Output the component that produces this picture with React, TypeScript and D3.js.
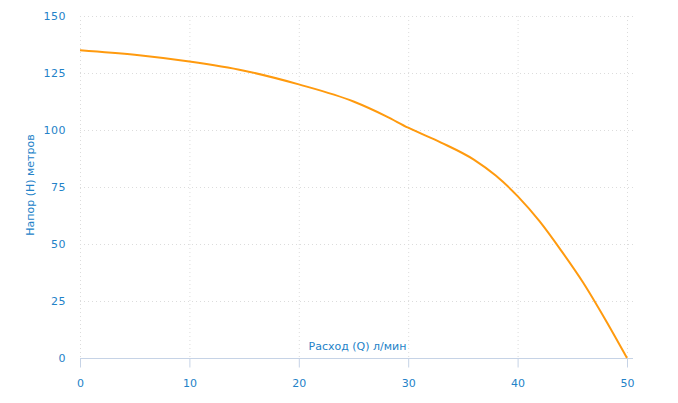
import React, { useRef, useEffect } from 'react';
import * as d3 from 'd3';

// расход (л/мин) и напор (м)
const flowValues = [0, 5, 10, 15, 20, 25, 28, 30, 33, 36, 38, 40, 42, 44, 46, 48, 50];
const headValues = [135, 133, 130, 126, 120, 112.5, 106, 101, 94.5, 87, 80, 71, 60, 47, 33, 17, 0];
const xTicks = [0, 10, 20, 30, 40, 50];
const yTicks = [0, 25, 50, 75, 100, 125, 150];

const TEXT_COLOR = '#2382c8';
const LINE_COLOR = '#ff9a0e';
const AXIS_COLOR = '#c6d3e6';
const GRID_COLOR = '#dcdcdc';
const FONT = '"DejaVu Sans", Verdana, sans-serif';

function drawChart(svgEle: SVGSVGElement) {
  const svg = d3.select(svgEle);
  svg.selectAll('*').remove();

  const margin = { top: 16, right: 51, bottom: 45, left: 80 };
  const width = 678 - margin.left - margin.right;
  const height = 403 - margin.top - margin.bottom;

  const x = d3.scaleLinear().domain([0, 50]).range([margin.left, margin.left + width]);
  const y = d3.scaleLinear().domain([0, 150]).range([margin.top + height, margin.top]);

  // сетка
  svg
    .append('g')
    .selectAll('line')
    .data(yTicks.filter((d) => d > 0))
    .enter()
    .append('line')
    .attr('x1', x(0))
    .attr('x2', x(50) + 6)
    .attr('y1', (d) => y(d) + 0.5)
    .attr('y2', (d) => y(d) + 0.5)
    .attr('stroke', GRID_COLOR)
    .attr('stroke-dasharray', '1,3');
  svg
    .append('g')
    .selectAll('line')
    .data(xTicks)
    .enter()
    .append('line')
    .attr('x1', (d) => x(d) + 0.5)
    .attr('x2', (d) => x(d) + 0.5)
    .attr('y1', y(150))
    .attr('y2', y(0))
    .attr('stroke', GRID_COLOR)
    .attr('stroke-dasharray', '1,3');

  // ось X
  const xAxis = svg
    .append('g')
    .attr('transform', `translate(0, ${y(0) + 0.5})`)
    .call(d3.axisBottom(x).tickValues(xTicks).tickSize(9).tickPadding(12));
  xAxis.select('.domain').remove();
  xAxis
    .insert('line', ':first-child')
    .attr('x1', x(0))
    .attr('x2', x(50) + 6)
    .attr('stroke', AXIS_COLOR);
  xAxis.selectAll('.tick line').attr('stroke', AXIS_COLOR);
  xAxis
    .selectAll('.tick text')
    .attr('fill', TEXT_COLOR)
    .style('font-family', FONT)
    .style('font-size', '11px');

  // ось Y
  const yAxis = svg
    .append('g')
    .attr('transform', `translate(${margin.left}, 0)`)
    .call(d3.axisLeft(y).tickValues(yTicks).tickSize(0).tickPadding(14));
  yAxis.select('.domain').remove();
  yAxis
    .selectAll('.tick text')
    .attr('fill', TEXT_COLOR)
    .style('font-family', FONT)
    .style('font-size', '11px')
    .style('letter-spacing', '0.5px');

  // подписи осей
  svg
    .append('text')
    .attr('x', x(25) + 4)
    .attr('y', y(0) - 8)
    .attr('text-anchor', 'middle')
    .attr('fill', TEXT_COLOR)
    .style('font-family', FONT)
    .style('font-size', '11px')
    .text('Расход (Q) л/мин');
  svg
    .append('text')
    .attr('transform', `translate(34, ${y(75) - 2}) rotate(-90)`)
    .attr('text-anchor', 'middle')
    .attr('fill', TEXT_COLOR)
    .style('font-family', FONT)
    .style('font-size', '11px')
    .text('Напор (H) метров');

  // кривая
  const points: [number, number][] = flowValues.map((q, i) => [q, headValues[i]]);
  const line = d3
    .line<[number, number]>()
    .x((d) => x(d[0]))
    .y((d) => y(d[1]))
    .curve(d3.curveMonotoneX);
  svg
    .append('path')
    .datum(points)
    .attr('d', line)
    .attr('fill', 'none')
    .attr('stroke', LINE_COLOR)
    .attr('stroke-width', 2);
}

export default function App(): JSX.Element {
  const svgRef = useRef<SVGSVGElement>(null);

  useEffect(() => {
    if (svgRef.current == null) {
      return;
    }
    drawChart(svgRef.current);
  }, []);

  return (
    <svg
      ref={svgRef}
      width={678}
      height={403}
      style={{ position: 'absolute', left: 0, top: 0, background: '#fff' }}
    />
  );
}
